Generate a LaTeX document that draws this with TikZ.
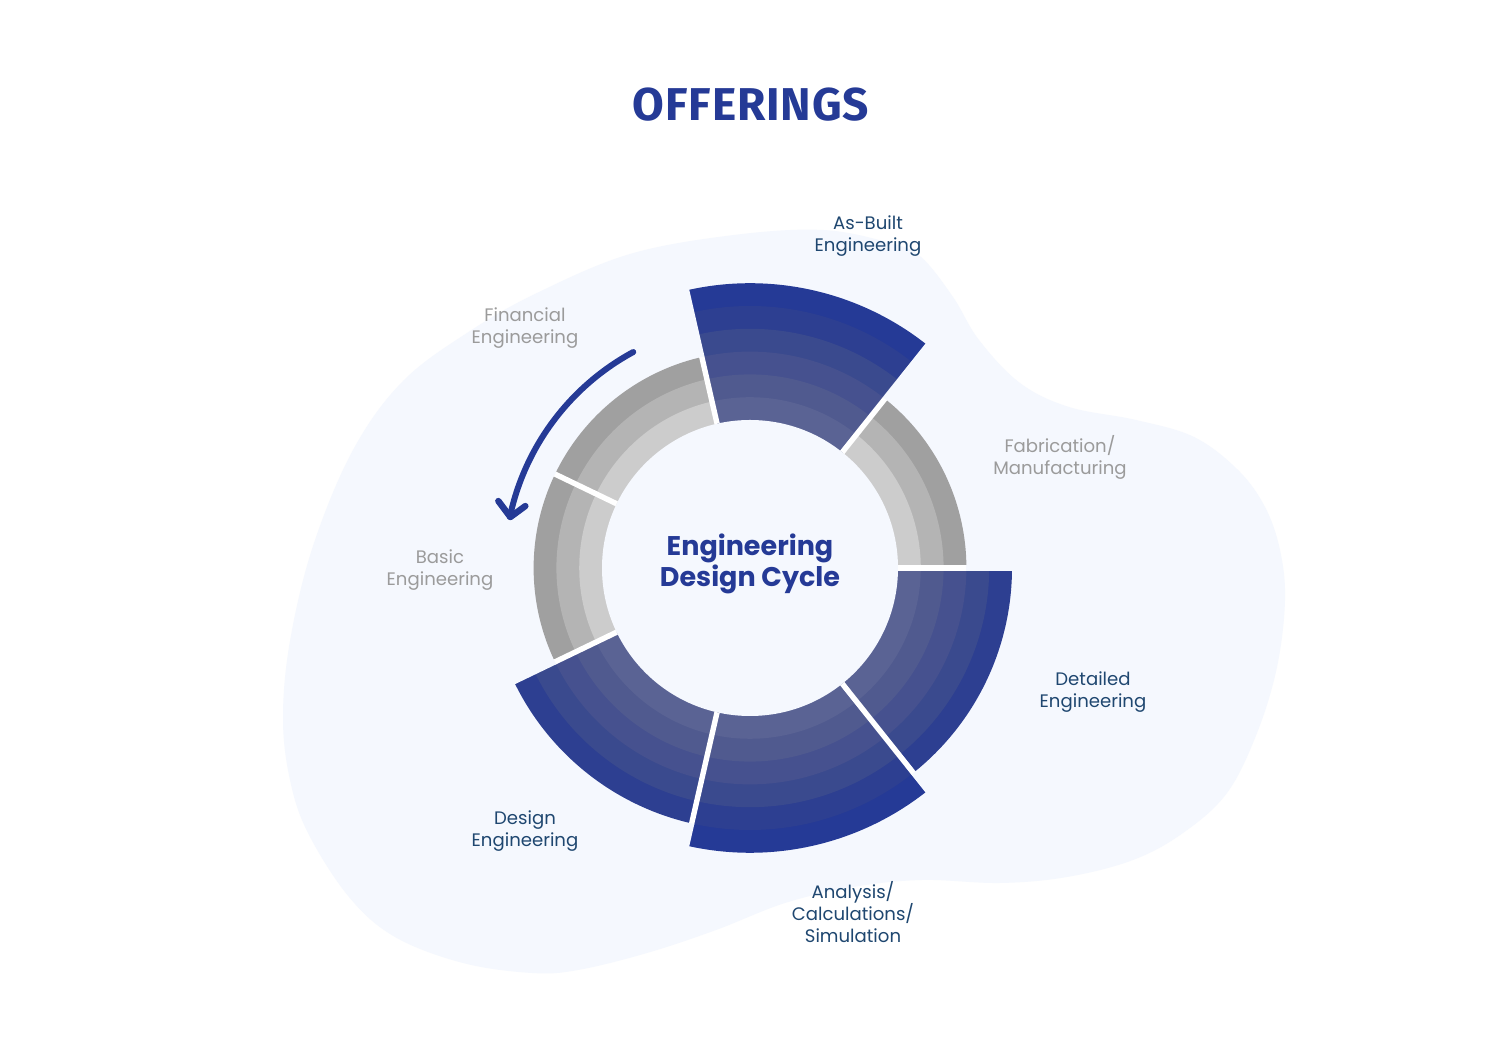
\documentclass[tikz,border=0pt]{standalone}
\usepackage{fontspec}
\setmainfont{Poppins}
\newfontfamily\titlefont{Fira Sans}[LetterSpace=2]
\usetikzlibrary{arrows.meta}
\definecolor{blobc}{HTML}{F5F8FE}
\definecolor{navy}{HTML}{253A96}
\definecolor{lblblue}{HTML}{1F4770}
\definecolor{lblgray}{HTML}{9B9B9B}
\definecolor{b1}{HTML}{5A6394}
\definecolor{b2}{HTML}{505A8F}
\definecolor{b3}{HTML}{46518F}
\definecolor{b4}{HTML}{3A4A8E}
\definecolor{b5}{HTML}{2D3F91}
\definecolor{b6}{HTML}{253A96}
\definecolor{g1}{HTML}{CCCCCC}
\definecolor{g2}{HTML}{B4B4B4}
\definecolor{g3}{HTML}{A0A0A0}
% #1 start angle, #2 end angle, #3 number of bands, #4 colour prefix
\newcommand\ringsector[4]{%
  \foreach \i in {#3,...,1}{%
    \pgfmathsetmacro\rr{148+\i*22.8}%
    \fill[#4\i] (0,0) -- (#1:\rr) arc[start angle=#1, end angle=#2, radius=\rr] -- cycle;
  }%
}
% gap line: angle, short radius, long radius
\newcommand\ringgap[3]{%
  \draw[white, line width=2.7pt] (#1:148) -- (#1:#2+0.5);
  \draw[blobc, line width=2.7pt] (#1:#2) -- (#1:#3+3);
}
\tikzset{
  lbl/.style={align=center, font=\fontsize{9.05}{11}\selectfont},
  lblb/.style={lbl, text=lblblue},
  lblg/.style={lbl, text=lblgray},
}
\begin{document}
\begin{tikzpicture}[x=0.5pt,y=0.5pt]
\useasboundingbox (0,0) rectangle (1500,1038);
\fill[white] (0,0) rectangle (1500,1038);
\fill[blobc] plot[smooth cycle, tension=0.6] coordinates {
(823,808) (890,795) (921,781) (953,741) (979,698) (1020,655) (1069,631) (1136,618)
(1194,601) (1238,568) (1265,531) (1280,488) (1285,438) (1277,371) (1257,305) (1227,245)
(1183,205) (1133,178) (1067,161) (1000,155) (922,158) (853,151) (785,135) (716,108)
(647,85) (578,68) (532,65) (463,75) (395,101) (349,141) (308,205) (290,258) (283,320)
(290,397) (313,492) (353,588) (403,657) (470,707) (537,745) (630,784) (734,803)};

\node[font=\titlefont\bfseries\fontsize{23}{26}\selectfont, text=navy] (title) at (751,933) {OFFERINGS};

\begin{scope}[shift={(750,470)}]
  \ringsector{0}{51.43}{3}{g}
  \ringsector{51.43}{102.86}{6}{b}
  \ringsector{102.86}{154.29}{3}{g}
  \ringsector{154.29}{205.71}{3}{g}
  \ringsector{205.71}{257.14}{5}{b}
  \ringsector{257.14}{308.57}{6}{b}
  \ringsector{308.57}{360}{5}{b}
  \fill[blobc] (0,0) circle[radius=148];
  \ringgap{0}{216.4}{262}
  \ringgap{51.43}{216.4}{285}
  \ringgap{102.86}{216.4}{285}
  \ringgap{154.29}{216.4}{216.4}
  \ringgap{205.71}{216.4}{262}
  \ringgap{257.14}{262}{285}
  \ringgap{308.57}{262}{285}
  \coordinate (arrS) at (118.4:245.5);
  \coordinate (arrE) at (168:245);
  \draw[navy, line width=3pt, line cap=round] (arrS) arc[start angle=118.4, end angle=168, radius=245.5];
  \draw[navy, line width=3.2pt, line cap=round, line join=round] ([shift={(-12,16)}]arrE) -- (arrE) -- ([shift={(15,11)}]arrE);
\end{scope}

\node[align=center, text=navy, font=\bfseries\fontsize{13.5}{14.5}\selectfont] (cycle) at (750,474) {Engineering\\Design Cycle};

\node[lblb] (asbuilt) at (868,802) {As-Built\\Engineering};
\node[lblg] (financial) at (525,710) {Financial\\Engineering};
\node[lblg] (fabrication) at (1060,581) {Fabrication/\\Manufacturing};
\node[lblg] (basic) at (440,468) {Basic\\Engineering};
\node[lblb] (detailed) at (1093,346) {Detailed\\Engineering};
\node[lblb] (design) at (525,207) {Design\\Engineering};
\node[lblb] (analysis) at (853,126) {Analysis/\\Calculations/\\Simulation};
\end{tikzpicture}
\end{document}
